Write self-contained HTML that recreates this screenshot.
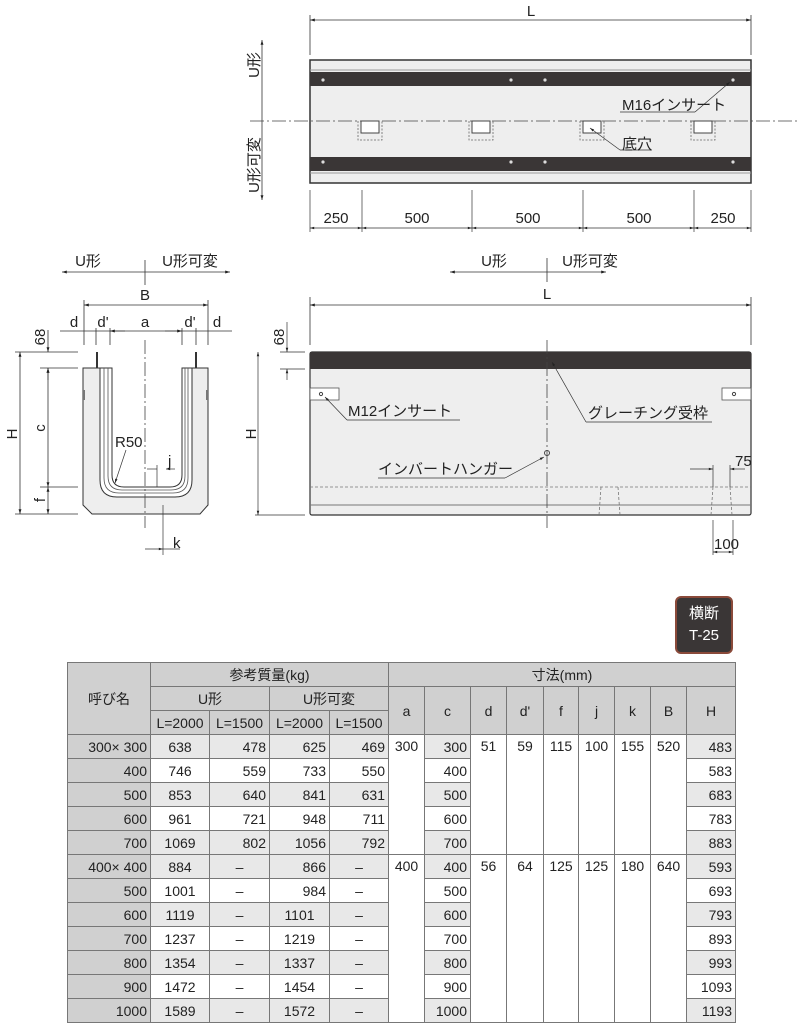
<!DOCTYPE html>
<html><head><meta charset="utf-8"><style>
body{margin:0;background:#fff;width:801px;height:1024px;overflow:hidden;position:relative;font-family:"Liberation Sans","Noto Sans CJK JP",sans-serif}
svg{position:absolute;left:0;top:0}
svg text{font-family:"Liberation Sans","Noto Sans CJK JP",sans-serif;font-size:15px;fill:#222}
table{position:absolute;left:67px;top:662px;border-collapse:collapse;font-size:14px;color:#222;table-layout:fixed}
td{border:1px solid #777;height:23px;padding:0 3px;text-align:center;white-space:nowrap;overflow:hidden}
td.t{vertical-align:top;padding-top:3px}
.h{background:#d0d0d0}
.n{background:#d0d0d0;text-align:right}
.g{background:#e8e8e8}
.r{text-align:right}
.badge{position:absolute;left:675px;top:596px;width:58px;height:58px;background:#3a3636;border-radius:6px;border:2px solid #8a4a3a;box-sizing:border-box;color:#fff;font-size:15px;text-align:center;line-height:22px;padding-top:5px}
</style></head><body>
<svg width="801" height="1024" viewBox="0 0 801 1024">
<defs>
<marker id="a" viewBox="0 0 10 10" refX="10" refY="5" markerWidth="9" markerHeight="6" orient="auto-start-reverse"><path d="M0,2 L10,5 L0,8z" fill="#222"/></marker>
</defs>
<g stroke="#333" stroke-width="0.8" fill="none">
<line x1="310" y1="15" x2="310" y2="55"/><line x1="751" y1="15" x2="751" y2="55"/>
<line x1="310" y1="20" x2="751" y2="20" marker-start="url(#a)" marker-end="url(#a)"/>
<line x1="262" y1="40" x2="262" y2="200" marker-start="url(#a)" marker-end="url(#a)"/>
</g>
<rect x="310" y="60" width="441" height="123" fill="#eee" stroke="#333" stroke-width="1.5"/>
<rect x="310" y="72" width="441" height="14" fill="#3a3636"/>
<rect x="310" y="157" width="441" height="14" fill="#3a3636"/>
<line x1="310" y1="70" x2="751" y2="70" stroke="#999"/><line x1="310" y1="173" x2="751" y2="173" stroke="#999"/>
<g fill="#ddd"><circle cx="323" cy="80" r="1.6"/><circle cx="511" cy="80" r="1.6"/><circle cx="545" cy="80" r="1.6"/><circle cx="733" cy="80" r="1.6"/><circle cx="323" cy="162" r="1.6"/><circle cx="511" cy="162" r="1.6"/><circle cx="545" cy="162" r="1.6"/><circle cx="733" cy="162" r="1.6"/></g>
<line x1="250" y1="121" x2="800" y2="121" stroke="#444" stroke-width="0.8" stroke-dasharray="14,3,2,3"/>
<g stroke="#444" fill="#fff" stroke-width="1"><rect x="361" y="121" width="18" height="12"/><rect x="472" y="121" width="18" height="12"/><rect x="583" y="121" width="18" height="12"/><rect x="694" y="121" width="18" height="12"/></g>
<g stroke="#666" fill="none" stroke-width="0.8" stroke-dasharray="2,1.5"><path d="M358,121V140H382V121"/><path d="M469,121V140H493V121"/><path d="M580,121V140H604V121"/><path d="M691,121V140H715V121"/></g>
<g stroke="#333" stroke-width="0.7" fill="none">
<line x1="695" y1="112" x2="620" y2="112"/><line x1="695" y1="112" x2="730" y2="82" marker-end="url(#a)"/>
<line x1="652" y1="150" x2="620" y2="150"/><line x1="620" y1="150" x2="590" y2="128" marker-end="url(#a)"/>
<line x1="310" y1="190" x2="310" y2="232"/><line x1="362" y1="190" x2="362" y2="232"/><line x1="472" y1="190" x2="472" y2="232"/><line x1="583" y1="190" x2="583" y2="232"/><line x1="694" y1="190" x2="694" y2="232"/><line x1="751" y1="190" x2="751" y2="232"/>
<line x1="310" y1="228" x2="362" y2="228" marker-start="url(#a)" marker-end="url(#a)"/>
<line x1="362" y1="228" x2="472" y2="228" marker-start="url(#a)" marker-end="url(#a)"/>
<line x1="472" y1="228" x2="583" y2="228" marker-start="url(#a)" marker-end="url(#a)"/>
<line x1="583" y1="228" x2="694" y2="228" marker-start="url(#a)" marker-end="url(#a)"/>
<line x1="694" y1="228" x2="751" y2="228" marker-start="url(#a)" marker-end="url(#a)"/>
</g>
<text x="531" y="16" text-anchor="middle">L</text>
<text x="622" y="110">M16インサート</text>
<text x="622" y="149">底穴</text>
<g text-anchor="middle"><text x="336" y="223">250</text><text x="417" y="223">500</text><text x="528" y="223">500</text><text x="639" y="223">500</text><text x="723" y="223">250</text></g>
<text transform="translate(259,65) rotate(-90)" text-anchor="middle">U形</text>
<text transform="translate(259,165) rotate(-90)" text-anchor="middle">U形可変</text>

<g stroke="#333" stroke-width="0.8" fill="none">
<line x1="450" y1="272" x2="606" y2="272" marker-start="url(#a)" marker-end="url(#a)"/>
<line x1="547" y1="258" x2="547" y2="282"/>
<line x1="310" y1="297" x2="310" y2="345"/><line x1="751" y1="297" x2="751" y2="345"/>
<line x1="310" y1="305" x2="751" y2="305" marker-start="url(#a)" marker-end="url(#a)"/>
</g>
<text x="494" y="266" text-anchor="middle">U形</text><text x="590" y="266" text-anchor="middle">U形可変</text>
<text x="547" y="299" text-anchor="middle">L</text>
<rect x="310" y="352" width="441" height="163" rx="2" fill="#eee" stroke="#333" stroke-width="1.2"/>
<rect x="310" y="352" width="441" height="17" fill="#3a3636"/>
<line x1="310" y1="505" x2="751" y2="505" stroke="#777"/>
<line x1="310" y1="487" x2="751" y2="487" stroke="#777" stroke-width="0.8" stroke-dasharray="3,2"/>
<g stroke="#777" stroke-width="0.8" stroke-dasharray="3,2"><line x1="601" y1="487" x2="599" y2="515"/><line x1="618" y1="487" x2="620" y2="515"/><line x1="713" y1="487" x2="711" y2="515"/><line x1="730" y1="487" x2="732" y2="515"/></g>
<g stroke="#555" fill="#fff" stroke-width="0.8"><rect x="310" y="388" width="29" height="12"/><rect x="722" y="388" width="29" height="12"/></g>
<circle cx="321" cy="394" r="1.6" fill="none" stroke="#444"/><circle cx="734" cy="394" r="1.6" fill="none" stroke="#444"/>
<circle cx="547" cy="453" r="2.5" fill="none" stroke="#444"/>
<line x1="547" y1="340" x2="547" y2="528" stroke="#444" stroke-width="0.8" stroke-dasharray="14,3,2,3"/>
<g stroke="#333" stroke-width="0.7" fill="none">
<line x1="347" y1="420" x2="460" y2="420"/><line x1="347" y1="420" x2="325" y2="397" marker-end="url(#a)"/>
<line x1="586" y1="422" x2="712" y2="422"/><line x1="586" y1="422" x2="552" y2="362" marker-end="url(#a)"/>
<line x1="378" y1="478" x2="505" y2="478"/><line x1="505" y1="478" x2="544" y2="457" marker-end="url(#a)"/>
<line x1="287" y1="322" x2="287" y2="352" marker-end="url(#a)"/><line x1="287" y1="380" x2="287" y2="369" marker-end="url(#a)"/>
<line x1="280" y1="352" x2="305" y2="352"/><line x1="280" y1="369" x2="305" y2="369"/>
<line x1="255" y1="515" x2="305" y2="515"/>
<line x1="258" y1="352" x2="258" y2="515" marker-start="url(#a)" marker-end="url(#a)"/>
<line x1="690" y1="469" x2="713" y2="469" marker-end="url(#a)"/><line x1="745" y1="469" x2="730" y2="469" marker-end="url(#a)"/>
<line x1="713" y1="465" x2="713" y2="487"/><line x1="730" y1="465" x2="730" y2="487"/>
<line x1="713" y1="520" x2="713" y2="555"/><line x1="733" y1="520" x2="733" y2="555"/>
<line x1="713" y1="552" x2="733" y2="552" marker-start="url(#a)" marker-end="url(#a)"/>
</g>
<text x="348" y="416">M12インサート</text>
<text x="588" y="418">グレーチング受枠</text>
<text x="378" y="474">インバートハンガー</text>
<text x="735" y="466">75</text>
<text x="714" y="549" font-size="14">100</text>
<text transform="translate(284,337) rotate(-90)" text-anchor="middle" font-size="14">68</text>
<text transform="translate(256,434) rotate(-90)" text-anchor="middle">H</text>

<g stroke="#333" stroke-width="0.8" fill="none">
<line x1="62" y1="272" x2="230" y2="272" marker-start="url(#a)" marker-end="url(#a)"/>
<line x1="145" y1="260" x2="145" y2="285"/>
<line x1="84" y1="300" x2="84" y2="345"/><line x1="208" y1="300" x2="208" y2="345"/>
<line x1="84" y1="305" x2="208" y2="305" marker-start="url(#a)" marker-end="url(#a)"/>
<line x1="60" y1="331" x2="232" y2="331"/>
<line x1="96" y1="328" x2="96" y2="345"/><line x1="110" y1="328" x2="110" y2="345"/><line x1="182" y1="328" x2="182" y2="345"/><line x1="196" y1="328" x2="196" y2="345"/>
<line x1="125" y1="331" x2="110" y2="331" marker-end="url(#a)"/><line x1="165" y1="331" x2="182" y2="331" marker-end="url(#a)"/>
<line x1="15" y1="352" x2="78" y2="352"/><line x1="40" y1="368" x2="78" y2="368"/><line x1="40" y1="487" x2="78" y2="487"/><line x1="15" y1="514" x2="78" y2="514"/>
<line x1="20" y1="352" x2="20" y2="514" marker-start="url(#a)" marker-end="url(#a)"/>
<line x1="48" y1="368" x2="48" y2="487" marker-start="url(#a)" marker-end="url(#a)"/>
<line x1="48" y1="487" x2="48" y2="514" marker-start="url(#a)" marker-end="url(#a)"/>
<line x1="48" y1="330" x2="48" y2="352" marker-end="url(#a)"/><line x1="48" y1="380" x2="48" y2="368" marker-end="url(#a)"/>
</g>
<path d="M83,368H100V480Q100,497 117,497H175Q192,497 192,480V368H208V505L200,514H92L83,505Z" fill="#eee" stroke="#333" stroke-width="1"/>
<path d="M100,368H112V475Q112,487 124,487H170Q182,487 182,475V368H192" fill="none" stroke="#333" stroke-width="1"/>
<path d="M104,368V478Q104,493 119,493H173Q188,493 188,478V368" fill="none" stroke="#555" stroke-width="0.8"/>
<path d="M108,368V476Q108,490 122,490H171Q185,490 185,476V368" fill="none" stroke="#555" stroke-width="0.8"/>
<rect x="96" y="352" width="2" height="16" fill="#333"/><rect x="195" y="352" width="2" height="16" fill="#333"/>
<rect x="83" y="390" width="2" height="10" fill="#777"/><rect x="206" y="390" width="2" height="10" fill="#777"/>
<line x1="145" y1="340" x2="145" y2="528" stroke="#444" stroke-width="0.8" stroke-dasharray="14,3,2,3"/>
<g stroke="#333" stroke-width="0.7" fill="none">
<line x1="126" y1="450" x2="115" y2="483" marker-end="url(#a)"/>
<line x1="147" y1="469" x2="157" y2="469"/><line x1="157" y1="465" x2="157" y2="487"/>
<line x1="175" y1="469" x2="166" y2="469" marker-end="url(#a)"/>
<line x1="163" y1="505" x2="163" y2="555"/>
<line x1="145" y1="549" x2="163" y2="549" marker-end="url(#a)"/>
<line x1="180" y1="549" x2="163" y2="549"/>
</g>
<text x="145" y="300" text-anchor="middle">B</text>
<text x="74" y="327" text-anchor="middle">d</text><text x="103" y="327" text-anchor="middle">d'</text><text x="145" y="327" text-anchor="middle">a</text><text x="190" y="327" text-anchor="middle">d'</text><text x="217" y="327" text-anchor="middle">d</text>
<text x="115" y="447">R50</text>
<text x="168" y="466">j</text>
<text x="173" y="548">k</text>
<text transform="translate(45,337) rotate(-90)" text-anchor="middle" font-size="14">68</text>
<text transform="translate(17,434) rotate(-90)" text-anchor="middle">H</text>
<text transform="translate(45,428) rotate(-90)" text-anchor="middle">c</text>
<text transform="translate(45,500) rotate(-90)" text-anchor="middle">f</text>
<text x="88" y="266" text-anchor="middle">U形</text><text x="190" y="266" text-anchor="middle">U形可変</text>
</svg>
<div class="badge">横断<br>T-25</div>
<table>
<colgroup><col style="width:83px"><col style="width:59px"><col style="width:60px"><col style="width:60px"><col style="width:59px"><col style="width:36px"><col style="width:46px"><col style="width:36px"><col style="width:37px"><col style="width:35px"><col style="width:36px"><col style="width:36px"><col style="width:36px"><col style="width:49px"></colgroup>
<tr><td class="h" rowspan="3">呼び名</td><td class="h" colspan="4">参考質量(kg)</td><td class="h" colspan="9">寸法(mm)</td></tr>
<tr><td class="h" colspan="2">U形</td><td class="h" colspan="2">U形可変</td><td class="h" rowspan="2">a</td><td class="h" rowspan="2">c</td><td class="h" rowspan="2">d</td><td class="h" rowspan="2">d'</td><td class="h" rowspan="2">f</td><td class="h" rowspan="2">j</td><td class="h" rowspan="2">k</td><td class="h" rowspan="2">B</td><td class="h" rowspan="2">H</td></tr>
<tr><td class="h" style="padding:0">L=2000</td><td class="h" style="padding:0">L=1500</td><td class="h" style="padding:0">L=2000</td><td class="h" style="padding:0">L=1500</td></tr>
<tr><td class="n">300× 300</td><td class="g">638</td><td class="g r">478</td><td class="g r">625</td><td class="g r">469</td><td rowspan="5" class="t">300</td><td class="g r">300</td><td rowspan="5" class="t">51</td><td rowspan="5" class="t">59</td><td rowspan="5" class="t">115</td><td rowspan="5" class="t">100</td><td rowspan="5" class="t">155</td><td rowspan="5" class="t">520</td><td class="g r">483</td></tr>
<tr><td class="n">400</td><td>746</td><td class="r">559</td><td class="r">733</td><td class="r">550</td><td class="r">400</td><td class="r">583</td></tr>
<tr><td class="n">500</td><td class="g">853</td><td class="g r">640</td><td class="g r">841</td><td class="g r">631</td><td class="g r">500</td><td class="g r">683</td></tr>
<tr><td class="n">600</td><td>961</td><td class="r">721</td><td class="r">948</td><td class="r">711</td><td class="r">600</td><td class="r">783</td></tr>
<tr><td class="n">700</td><td class="g">1069</td><td class="g r">802</td><td class="g r">1056</td><td class="g r">792</td><td class="g r">700</td><td class="g r">883</td></tr>
<tr><td class="n">400× 400</td><td class="g">884</td><td class="g">–</td><td class="g r">866</td><td class="g">–</td><td rowspan="7" class="t">400</td><td class="g r">400</td><td rowspan="7" class="t">56</td><td rowspan="7" class="t">64</td><td rowspan="7" class="t">125</td><td rowspan="7" class="t">125</td><td rowspan="7" class="t">180</td><td rowspan="7" class="t">640</td><td class="g r">593</td></tr>
<tr><td class="n">500</td><td>1001</td><td>–</td><td class="r">984</td><td>–</td><td class="r">500</td><td class="r">693</td></tr>
<tr><td class="n">600</td><td class="g">1119</td><td class="g">–</td><td class="g">1101</td><td class="g">–</td><td class="g r">600</td><td class="g r">793</td></tr>
<tr><td class="n">700</td><td>1237</td><td>–</td><td>1219</td><td>–</td><td class="r">700</td><td class="r">893</td></tr>
<tr><td class="n">800</td><td class="g">1354</td><td class="g">–</td><td class="g">1337</td><td class="g">–</td><td class="g r">800</td><td class="g r">993</td></tr>
<tr><td class="n">900</td><td>1472</td><td>–</td><td>1454</td><td>–</td><td class="r">900</td><td class="r">1093</td></tr>
<tr><td class="n">1000</td><td class="g">1589</td><td class="g">–</td><td class="g">1572</td><td class="g">–</td><td class="g r">1000</td><td class="g r">1193</td></tr>
</table>
</body></html>
